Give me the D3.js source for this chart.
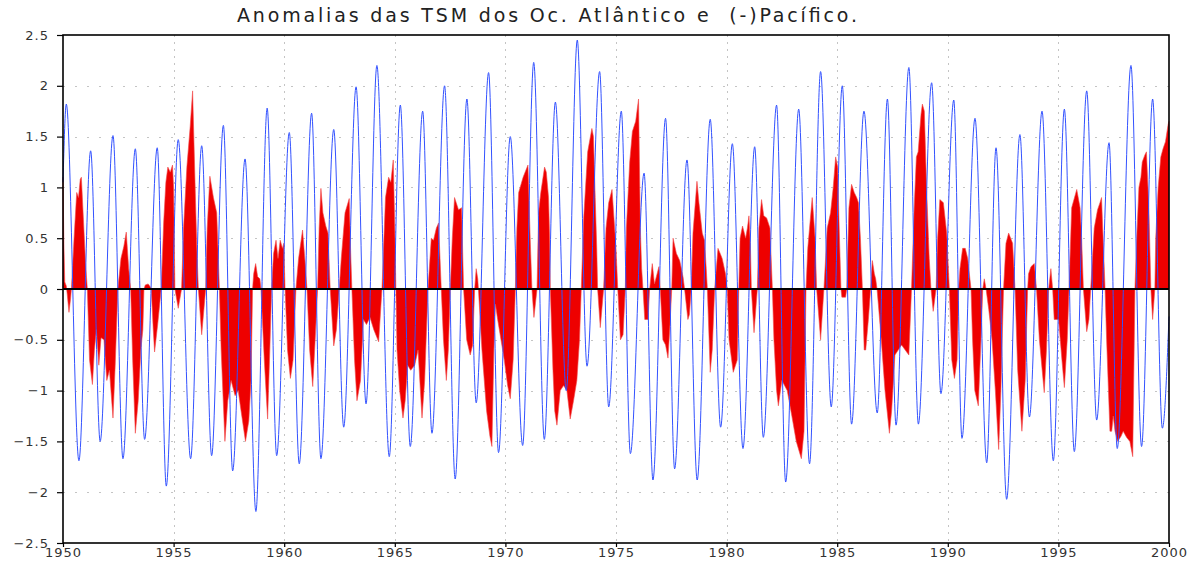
<!DOCTYPE html>
<html>
<head>
<meta charset="utf-8">
<script src="https://cdn.jsdelivr.net/npm/d3@7"></script>
<style>
  body { margin: 0; background: #fff; }
  svg { display: block; }
</style>
</head>
<body>
<svg id="chart" width="1199" height="562"></svg>
<script>
// Chart text and ticks
const chartTitle = "Anomalias das TSM dos Oc. Atlântico e  (-)Pacífico.";
const yearTicks = [1950, 1955, 1960, 1965, 1970, 1975, 1980, 1985, 1990, 1995, 2000];
const valueTicks = [-2.5, -2, -1.5, -1, -0.5, 0, 0.5, 1, 1.5, 2, 2.5];

// Atlantic series (blue line): [decimal year, anomaly] at the turning points of each cycle
const atlantico = [
  [1950.00, 1.05], [1950.15, 1.82], [1950.72, -1.69], [1951.25, 1.36], [1951.68, -1.50],
  [1952.26, 1.51], [1952.71, -1.67], [1953.27, 1.38], [1953.69, -1.48], [1954.26, 1.39],
  [1954.67, -1.94], [1955.21, 1.47], [1955.77, -1.67], [1956.27, 1.41], [1956.72, -1.64],
  [1957.25, 1.61], [1957.67, -1.79], [1958.23, 1.28], [1958.72, -2.19], [1959.23, 1.78],
  [1959.66, -1.64], [1960.23, 1.54], [1960.68, -1.72], [1961.24, 1.73], [1961.66, -1.67],
  [1962.24, 1.57], [1962.69, -1.36], [1963.25, 1.99], [1963.70, -1.13], [1964.19, 2.20],
  [1964.75, -1.65], [1965.25, 1.81], [1965.70, -1.55], [1966.26, 1.75], [1966.68, -1.42],
  [1967.25, 2.00], [1967.73, -1.87], [1968.26, 1.87], [1968.68, -1.12], [1969.24, 2.13],
  [1969.69, -1.61], [1970.22, 1.50], [1970.78, -1.54], [1971.28, 2.23], [1971.76, -1.48],
  [1972.26, 1.84], [1972.75, -1.00], [1973.25, 2.45], [1973.69, -0.76], [1974.26, 2.14],
  [1974.67, -1.16], [1975.24, 1.75], [1975.65, -1.62], [1976.27, 1.14], [1976.67, -1.88],
  [1977.24, 1.68], [1977.65, -1.77], [1978.21, 1.27], [1978.67, -1.88], [1979.26, 1.67],
  [1979.73, -1.36], [1980.26, 1.43], [1980.74, -1.57], [1981.27, 1.40], [1981.66, -1.46],
  [1982.26, 1.81], [1982.67, -1.90], [1983.26, 1.77], [1983.75, -1.72], [1984.25, 2.14],
  [1984.73, -1.16], [1985.23, 2.00], [1985.65, -1.33], [1986.21, 1.75], [1986.81, -1.22],
  [1987.27, 1.87], [1987.66, -1.34], [1988.24, 2.18], [1988.67, -1.33], [1989.27, 2.03],
  [1989.69, -1.03], [1990.27, 1.86], [1990.64, -1.47], [1991.23, 1.68], [1991.76, -1.71],
  [1992.18, 1.39], [1992.66, -2.07], [1993.26, 1.52], [1993.69, -1.26], [1994.26, 1.75],
  [1994.77, -1.69], [1995.27, 1.77], [1995.72, -1.60], [1996.28, 1.95], [1996.73, -1.29],
  [1997.29, 1.44], [1997.66, -1.57], [1998.28, 2.20], [1998.76, -1.55], [1999.26, 1.87],
  [1999.70, -1.37], [2000.00, -0.27]
];

// Pacific series with reversed sign (red fill): [decimal year, anomaly]
const pacificoNeg = [
  [1950.00, 1.10], [1950.04, 0.45], [1950.08, 0.07], [1950.15, 0.03], [1950.19, -0.05],
  [1950.27, -0.23], [1950.34, -0.10], [1950.38, 0], [1950.50, 0.50], [1950.62, 0.95],
  [1950.70, 0.90], [1950.78, 1.08], [1950.83, 1.10], [1950.92, 0.70], [1951.02, 0.25],
  [1951.10, 0], [1951.20, -0.70], [1951.33, -0.94], [1951.42, -0.60], [1951.51, -0.40],
  [1951.62, -0.75], [1951.72, -0.48], [1951.85, -0.50], [1951.98, -0.90], [1952.10, -0.80],
  [1952.26, -1.27], [1952.36, -0.75], [1952.48, 0], [1952.62, 0.30], [1952.75, 0.42],
  [1952.86, 0.56], [1952.97, 0.20], [1953.06, 0], [1953.15, -0.70], [1953.27, -1.42],
  [1953.40, -1.10], [1953.52, -0.60], [1953.61, -0.40], [1953.66, 0], [1953.72, 0.04],
  [1953.85, 0.05], [1953.95, 0.02], [1953.99, 0], [1954.08, -0.40], [1954.14, -0.62],
  [1954.28, -0.35], [1954.44, 0], [1954.55, 0.65], [1954.65, 1.05], [1954.74, 1.20],
  [1954.85, 1.15], [1954.95, 1.22], [1955.00, 1.00], [1955.06, 0], [1955.21, -0.19],
  [1955.36, 0], [1955.45, 0.60], [1955.60, 1.20], [1955.75, 1.60], [1955.86, 1.95],
  [1955.95, 1.20], [1956.05, 0.40], [1956.12, 0], [1956.27, -0.45], [1956.45, 0],
  [1956.52, 0.60], [1956.64, 1.11], [1956.80, 0.90], [1956.95, 0.75], [1957.07, 0],
  [1957.15, -0.60], [1957.32, -1.50], [1957.45, -1.10], [1957.60, -0.90], [1957.78, -1.05],
  [1957.92, -1.00], [1958.05, -1.20], [1958.25, -1.50], [1958.40, -1.30], [1958.50, -0.90],
  [1958.57, 0], [1958.62, 0.15], [1958.71, 0.25], [1958.80, 0.12], [1958.90, 0.10],
  [1958.95, 0], [1959.10, -0.70], [1959.25, -1.28], [1959.35, -0.60], [1959.43, 0],
  [1959.52, 0.35], [1959.63, 0.48], [1959.72, 0.30], [1959.82, 0.48], [1959.92, 0.40],
  [1959.98, 0.45], [1960.04, 0], [1960.15, -0.60], [1960.28, -0.88], [1960.40, -0.70],
  [1960.53, 0], [1960.65, 0.30], [1960.83, 0.58], [1960.95, 0.25], [1961.03, 0],
  [1961.15, -0.60], [1961.29, -0.96], [1961.40, -0.50], [1961.51, 0], [1961.58, 0.60],
  [1961.66, 0.99], [1961.75, 0.75], [1961.88, 0.62], [1961.98, 0.55], [1962.08, 0],
  [1962.24, -0.56], [1962.36, -0.40], [1962.49, 0], [1962.58, 0.30], [1962.75, 0.75],
  [1962.94, 0.89], [1963.00, 0.40], [1963.06, 0], [1963.18, -0.70], [1963.29, -1.10],
  [1963.45, -0.90], [1963.58, -0.30], [1963.72, -0.35], [1963.88, -0.28], [1964.05, -0.40],
  [1964.27, -0.52], [1964.42, 0], [1964.58, 0.90], [1964.72, 1.10], [1964.82, 1.05],
  [1964.93, 1.27], [1965.00, 0.60], [1965.05, 0], [1965.10, -0.60], [1965.22, -1.00],
  [1965.37, -1.27], [1965.47, -1.10], [1965.58, -0.75], [1965.72, -0.80], [1965.90, -0.75],
  [1966.05, -0.60], [1966.23, -1.27], [1966.35, -0.90], [1966.50, 0], [1966.65, 0.50],
  [1966.75, 0.48], [1966.88, 0.60], [1966.98, 0.65], [1967.10, 0], [1967.20, -0.50],
  [1967.33, -0.90], [1967.42, -0.60], [1967.51, 0], [1967.60, 0.50], [1967.70, 0.90],
  [1967.88, 0.78], [1968.02, 0.80], [1968.11, 0], [1968.25, -0.50], [1968.41, -0.65],
  [1968.52, -0.55], [1968.61, 0], [1968.68, 0.20], [1968.75, 0.10], [1968.78, 0],
  [1968.94, -0.60], [1969.15, -1.20], [1969.30, -1.45], [1969.39, -1.55], [1969.48, -0.60],
  [1969.55, -0.15], [1969.65, -0.30], [1969.80, -0.50], [1969.95, -0.70], [1970.10, -0.95],
  [1970.22, -1.08], [1970.35, -0.70], [1970.45, 0], [1970.52, 0.60], [1970.60, 0.95],
  [1970.80, 1.10], [1971.02, 1.22], [1971.12, 0.50], [1971.20, 0], [1971.29, -0.28],
  [1971.43, 0], [1971.50, 0.75], [1971.60, 0.95], [1971.77, 1.20], [1971.85, 1.15],
  [1971.95, 0.90], [1972.00, 0.50], [1972.03, 0], [1972.15, -0.80], [1972.23, -1.20],
  [1972.33, -1.34], [1972.48, -1.00], [1972.63, -0.95], [1972.78, -1.00], [1972.93, -1.28],
  [1973.08, -1.10], [1973.23, -0.90], [1973.35, -0.50], [1973.43, 0], [1973.54, 0.70],
  [1973.72, 1.35], [1973.91, 1.58], [1973.98, 1.50], [1974.06, 0.90], [1974.13, 0.40],
  [1974.17, 0], [1974.29, -0.38], [1974.44, 0], [1974.55, 0.60], [1974.67, 0.85],
  [1974.82, 0.98], [1975.00, 0.40], [1975.08, 0], [1975.20, -0.50], [1975.32, -0.45],
  [1975.42, 0], [1975.47, 0.60], [1975.62, 1.25], [1975.74, 1.55], [1975.89, 1.65],
  [1976.02, 1.87], [1976.10, 0.60], [1976.16, 0.20], [1976.22, 0], [1976.30, -0.30],
  [1976.45, -0.30], [1976.52, 0], [1976.64, 0.25], [1976.74, 0.05], [1976.94, 0.22],
  [1977.00, 0], [1977.12, -0.50], [1977.24, -0.55], [1977.35, -0.68], [1977.43, -0.40],
  [1977.52, 0], [1977.58, 0.50], [1977.73, 0.35], [1977.88, 0.28], [1978.03, 0.12],
  [1978.10, 0], [1978.25, -0.30], [1978.32, -0.25], [1978.40, 0], [1978.48, 0.55],
  [1978.66, 1.06], [1978.75, 0.85], [1978.90, 0.55], [1979.00, 0.48], [1979.08, 0.20],
  [1979.13, 0], [1979.26, -0.82], [1979.35, -0.60], [1979.46, 0], [1979.61, 0.40],
  [1979.71, 0.35], [1979.80, 0.30], [1979.95, 0.15], [1980.03, 0], [1980.11, -0.50],
  [1980.30, -0.82], [1980.48, -0.70], [1980.55, 0], [1980.61, 0.50], [1980.72, 0.62],
  [1980.86, 0.50], [1980.94, 0.60], [1981.01, 0.72], [1981.08, 0.40], [1981.12, 0],
  [1981.24, -0.43], [1981.39, 0], [1981.46, 0.60], [1981.58, 0.88], [1981.68, 0.72],
  [1981.81, 0.70], [1981.96, 0.60], [1982.07, 0], [1982.14, -0.50], [1982.26, -1.00],
  [1982.34, -1.15], [1982.50, -0.90], [1982.74, -1.00], [1982.95, -1.25], [1983.15, -1.50],
  [1983.38, -1.67], [1983.50, -1.40], [1983.59, 0], [1983.67, 0.40], [1983.87, 0.90],
  [1984.00, 0.50], [1984.07, 0], [1984.25, -0.50], [1984.40, 0], [1984.55, 0.60],
  [1984.70, 0.75], [1984.82, 1.00], [1984.93, 1.30], [1985.02, 1.20], [1985.09, 0.60],
  [1985.17, 0], [1985.21, -0.08], [1985.38, -0.08], [1985.43, 0], [1985.53, 0.80],
  [1985.65, 1.03], [1985.77, 0.95], [1985.88, 0.90], [1985.96, 0.85], [1986.05, 0.50],
  [1986.14, 0], [1986.22, -0.60], [1986.29, -0.60], [1986.41, -0.30], [1986.51, 0],
  [1986.59, 0.28], [1986.68, 0.15], [1986.74, 0.10], [1986.80, 0], [1986.86, -0.15],
  [1987.01, -0.55], [1987.16, -1.00], [1987.28, -1.25], [1987.36, -1.42], [1987.46, -1.20],
  [1987.61, -0.65], [1987.76, -0.60], [1987.91, -0.55], [1988.14, -0.62], [1988.24, -0.65],
  [1988.36, 0], [1988.48, 0.80], [1988.58, 1.30], [1988.66, 1.35], [1988.79, 1.72],
  [1988.85, 1.82], [1988.94, 1.75], [1989.04, 1.00], [1989.16, 0.30], [1989.24, 0],
  [1989.34, -0.22], [1989.47, 0], [1989.54, 0.50], [1989.64, 0.88], [1989.80, 0.85],
  [1989.95, 0.55], [1990.07, 0], [1990.18, -0.70], [1990.30, -0.88], [1990.42, -0.70],
  [1990.49, 0], [1990.55, 0.20], [1990.67, 0.40], [1990.79, 0.40], [1990.90, 0.30],
  [1991.00, 0.10], [1991.05, 0], [1991.12, -0.50], [1991.22, -1.00], [1991.38, -1.15],
  [1991.50, -0.50], [1991.58, 0], [1991.65, 0.10], [1991.73, 0], [1991.85, -0.20],
  [1992.00, -0.50], [1992.15, -1.00], [1992.30, -1.58], [1992.40, -1.00], [1992.52, 0],
  [1992.63, 0.45], [1992.75, 0.55], [1992.93, 0.45], [1993.04, 0], [1993.16, -0.80],
  [1993.35, -1.40], [1993.50, -0.90], [1993.61, 0], [1993.65, 0.15], [1993.76, 0.22],
  [1993.91, 0.25], [1994.01, 0], [1994.14, -0.50], [1994.36, -1.02], [1994.46, -0.60],
  [1994.56, 0], [1994.66, 0.20], [1994.74, 0], [1994.81, -0.30], [1995.01, -0.30],
  [1995.16, -0.70], [1995.27, -0.97], [1995.40, -0.50], [1995.48, 0], [1995.60, 0.80],
  [1995.83, 0.98], [1995.98, 0.80], [1996.05, 0.50], [1996.13, 0], [1996.28, -0.42],
  [1996.38, -0.30], [1996.46, 0], [1996.62, 0.60], [1996.77, 0.78], [1996.88, 0.85],
  [1996.95, 0.90], [1997.11, 0], [1997.18, -0.50], [1997.33, -1.40], [1997.41, -1.40],
  [1997.48, -1.25], [1997.56, -1.40], [1997.68, -1.50], [1997.83, -1.45], [1997.93, -1.40],
  [1998.08, -1.46], [1998.23, -1.50], [1998.36, -1.65], [1998.46, 0], [1998.54, 0.50],
  [1998.64, 1.00], [1998.73, 1.10], [1998.79, 1.25], [1998.91, 1.32], [1998.98, 1.35],
  [1999.09, 0.80], [1999.18, 0], [1999.26, -0.30], [1999.36, 0], [1999.40, 0.50],
  [1999.51, 1.00], [1999.63, 1.30], [1999.73, 1.38], [1999.84, 1.45], [1999.96, 1.62],
  [2000.00, 1.65]
];

const svg = d3.select("#chart");
const plot = { left: 63, right: 1169, top: 35, bottom: 543 };

const x = d3.scaleLinear().domain([1950, 2000]).range([plot.left, plot.right]);
const y = d3.scaleLinear().domain([-2.5, 2.5]).range([plot.bottom, plot.top]);

// Dotted grid
const grid = svg.append("g").attr("stroke", "#c4c4c4").attr("stroke-width", 1);
grid.selectAll("line.h").data(valueTicks.filter(v => v !== 0 && Math.abs(v) < 2.5))
  .join("line").attr("class", "h")
  .attr("x1", plot.left).attr("x2", plot.right)
  .attr("y1", d => Math.round(y(d)) + 0.5).attr("y2", d => Math.round(y(d)) + 0.5)
  .attr("stroke-dasharray", "2,10");
grid.selectAll("line.v").data(yearTicks.slice(1, -1))
  .join("line").attr("class", "v")
  .attr("x1", d => Math.round(x(d)) + 0.5).attr("x2", d => Math.round(x(d)) + 0.5)
  .attr("y1", plot.top).attr("y2", plot.bottom)
  .attr("stroke-dasharray", "2,5");

// Red filled anomaly
const area = d3.area()
  .x(d => x(d[0]))
  .y0(y(0))
  .y1(d => y(d[1]))
  .curve(d3.curveLinear);
svg.append("path").datum(pacificoNeg)
  .attr("d", area)
  .attr("fill", "#ee0000")
  .attr("stroke", "#f24a4a")
  .attr("stroke-width", 0.6);

// Blue line
const line = d3.line()
  .x(d => x(d[0]))
  .y(d => y(d[1]))
  .curve(d3.curveMonotoneX);
svg.append("path").datum(atlantico)
  .attr("d", line)
  .attr("fill", "none")
  .attr("stroke", "#3352ff")
  .attr("stroke-width", 1);

// Zero line
svg.append("line")
  .attr("x1", plot.left).attr("x2", plot.right)
  .attr("y1", y(0)).attr("y2", y(0))
  .attr("stroke", "#000").attr("stroke-width", 2);

// Frame
svg.append("rect")
  .attr("x", plot.left).attr("y", plot.top)
  .attr("width", plot.right - plot.left).attr("height", plot.bottom - plot.top)
  .attr("fill", "none").attr("stroke", "#000").attr("stroke-width", 1.6);

// Axes
const fmt = d3.format("~g");
const yAxis = svg.append("g")
  .attr("transform", `translate(${plot.left},0)`)
  .call(d3.axisLeft(y).tickValues(valueTicks).tickSize(6).tickPadding(8).tickFormat(fmt));
const xAxis = svg.append("g")
  .attr("transform", `translate(0,${plot.bottom})`)
  .call(d3.axisBottom(x).tickValues(yearTicks).tickSize(4).tickPadding(1).tickFormat(d3.format("d")));

[yAxis, xAxis].forEach(g => {
  g.select(".domain").remove();
  g.selectAll(".tick line").attr("stroke", "#000").attr("stroke-width", 1.2);
  g.selectAll(".tick text")
    .attr("fill", "#333")
    .style("font-family", "'DejaVu Sans', sans-serif")
    .style("font-size", "13px")
    .style("letter-spacing", "1px");
});

// Title
svg.append("text")
  .attr("x", 547).attr("y", 22)
  .attr("text-anchor", "middle")
  .attr("textLength", 620)
  .attr("lengthAdjust", "spacing")
  .style("white-space", "pre")
  .style("font-family", "'DejaVu Sans', sans-serif")
  .style("font-size", "19px")
  .attr("fill", "#222")
  .text(chartTitle);
</script>
</body>
</html>
